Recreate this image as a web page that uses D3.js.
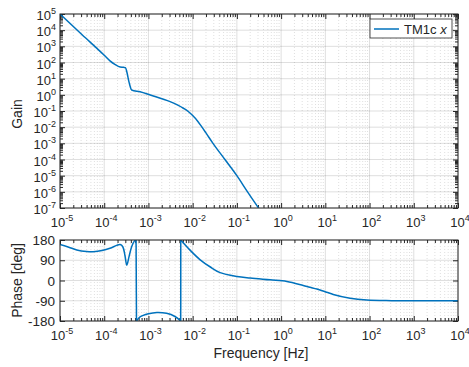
<!DOCTYPE html>
<html>
<head>
<meta charset="utf-8">
<script src="https://cdn.jsdelivr.net/npm/d3@7"></script>
<style>
  body { margin: 0; background: #fff; }
  svg { font-family: "Liberation Sans", Arial, sans-serif; }
</style>
</head>
<body>
<svg id="bode" width="469" height="367"></svg>
<script>
// gain curve
const gainFreq = [1e-5, 3.16e-5, 1e-4, 1.35e-4, 1.74e-4, 2.29e-4, 2.75e-4, 3.02e-4,
  3.24e-4, 3.63e-4, 4.17e-4, 6.46e-4, 1.1e-3, 3.09e-3, 6.17e-3, 7.94e-3, 1e-2, 1.26e-2,
  1.58e-2, 2e-2, 2.88e-2, 5.37e-2, 0.1, 0.174, 0.309, 0.55];
const gainVal = [1e5, 5.25e3, 282, 126, 76, 52, 50, 48,
  27, 6.3, 2.0, 1.55, 0.98, 0.38, 0.148, 0.093, 0.052, 0.026,
  0.0112, 4.4e-3, 1e-3, 1e-4, 1e-5, 1e-6, 1e-7, 1e-8];

// phase curve (wraps at +/-180)
const phaseFreq = [1e-5, 1.58e-5, 2.4e-5, 3.98e-5, 5.62e-5, 8.91e-5, 1.35e-4, 1.91e-4, 2.29e-4,
  2.63e-4, 2.95e-4, 3.24e-4, 3.63e-4, 4.17e-4, 4.79e-4, 5.25e-4,
  5.37e-4, 6.46e-4, 1e-3, 1.55e-3, 2.57e-3, 3.98e-3, 5.37e-3,
  5.38e-3, 8.71e-3, 1.48e-2, 2.51e-2, 4.17e-2, 0.1, 0.2, 0.562, 1.35, 3.16, 4.47, 6.46,
  10.7, 15.1, 36.3, 87.1, 316, 1000, 1e4];
const phaseDeg = [160, 148, 136, 129, 128, 133, 143, 156, 160,
  150, 110, 68, 105, 150, 175, 180,
  -180, -162, -148, -142, -146, -160, -180,
  180, 135, 92, 60, 35, 18, 11, 3, -4, -22, -30, -38,
  -52, -62, -79, -87, -89.5, -90, -90];

const freqTicks = [1e-5, 1e-4, 1e-3, 1e-2, 1e-1, 1e0, 1e1, 1e2, 1e3, 1e4];
const gainTicks = [1e5, 1e4, 1e3, 1e2, 1e1, 1e0, 1e-1, 1e-2, 1e-3, 1e-4, 1e-5, 1e-6, 1e-7];
const phaseTicks = [180, 90, 0, -90, -180];
const seriesName = 'TM1c';

const left = 60, right = 458;
const gTop = 14, gBot = 208, pTop = 240, pBot = 321;
const lineColor = '#0072bd', axisColor = '#262626';

const svg = d3.select('#bode');

const x = d3.scaleLog().domain([1e-5, 1e4]).range([left, right]);
const yGain = d3.scaleLog().domain([1e-7, 1e5]).range([gBot, gTop]);
const yPhase = d3.scaleLinear().domain([-180, 180]).range([pBot, pTop]);

// minor values 2..9 x 10^k
const minorFreq = [];
freqTicks.slice(0, -1).forEach(d => {
  for (let k = 2; k <= 9; k++) minorFreq.push(d * k);
});
const minorGain = [];
gainTicks.slice(1).forEach(d => {
  for (let k = 2; k <= 9; k++) minorGain.push(d * k);
});

function expLabel(sel, exp) {
  sel.append('tspan').text('10');
  sel.append('tspan').attr('dy', -6).attr('font-size', 9).text(exp);
}

function panel(top, bot, y, yTicks, yMinor, clipId) {
  const g = svg.append('g');

  // grid
  g.selectAll('.minorx').data(minorFreq).enter().append('line')
    .attr('x1', d => x(d)).attr('x2', d => x(d))
    .attr('y1', top).attr('y2', bot)
    .style('stroke', axisColor).style('stroke-opacity', 0.25)
    .style('stroke-dasharray', '1,2').style('stroke-width', 0.6);
  g.selectAll('.majx').data(freqTicks).enter().append('line')
    .attr('x1', d => x(d)).attr('x2', d => x(d))
    .attr('y1', top).attr('y2', bot)
    .style('stroke', axisColor).style('stroke-opacity', 0.15);
  g.selectAll('.majy').data(yTicks).enter().append('line')
    .attr('x1', left).attr('x2', right)
    .attr('y1', d => y(d)).attr('y2', d => y(d))
    .style('stroke', axisColor).style('stroke-opacity', 0.15);

  svg.append('clipPath').attr('id', clipId).append('rect')
    .attr('x', left).attr('y', top).attr('width', right - left).attr('height', bot - top);

  // ticks via d3 axes, pointing inward
  const axes = [
    [d3.axisBottom(x), `translate(0,${bot})`, freqTicks, -5],
    [d3.axisBottom(x), `translate(0,${bot})`, minorFreq, -3],
    [d3.axisTop(x), `translate(0,${top})`, freqTicks, -5],
    [d3.axisTop(x), `translate(0,${top})`, minorFreq, -3],
    [d3.axisLeft(y), `translate(${left},0)`, yTicks, -5],
    [d3.axisRight(y), `translate(${right},0)`, yTicks, -5]
  ];
  if (yMinor) {
    axes.push([d3.axisLeft(y), `translate(${left},0)`, yMinor, -3]);
    axes.push([d3.axisRight(y), `translate(${right},0)`, yMinor, -3]);
  }
  axes.forEach(([ax, tr, vals, size]) => {
    const a = g.append('g').attr('transform', tr)
      .call(ax.tickValues(vals).tickSize(size).tickFormat(''));
    a.select('.domain').remove();
    a.selectAll('line').style('stroke', axisColor);
  });

  // x tick labels
  g.selectAll('.xl').data(freqTicks).enter().append('text')
    .attr('x', d => x(d) + 2).attr('y', bot + 19)
    .attr('text-anchor', 'middle').attr('font-size', 13).style('fill', axisColor)
    .each(function(d) { expLabel(d3.select(this), String(Math.round(Math.log10(d)))); });

  return g;
}

// gain panel
const gp = panel(gTop, gBot, yGain, gainTicks, minorGain, 'clipGain');
gp.selectAll('.yl').data(gainTicks).enter().append('text')
  .attr('x', 56).attr('y', d => yGain(d) + 6)
  .attr('text-anchor', 'end').attr('font-size', 13).style('fill', axisColor)
  .each(function(d) { expLabel(d3.select(this), String(Math.round(Math.log10(d)))); });

const gainLine = d3.line()
  .x((d, i) => x(gainFreq[i]))
  .y(d => yGain(d))
  .curve(d3.curveMonotoneX);
gp.append('path')
  .datum(gainVal)
  .attr('d', gainLine)
  .attr('clip-path', 'url(#clipGain)')
  .style('fill', 'none').style('stroke', lineColor).style('stroke-width', 1.5);

gp.append('rect')
  .attr('x', left).attr('y', gTop).attr('width', right - left).attr('height', gBot - gTop)
  .style('fill', 'none').style('stroke', axisColor).style('stroke-width', 1);

// phase panel
const pp = panel(pTop, pBot, yPhase, phaseTicks, null, 'clipPhase');
pp.selectAll('.yl').data(phaseTicks).enter().append('text')
  .attr('x', 55).attr('y', d => yPhase(d) + 5)
  .attr('text-anchor', 'end').attr('font-size', 13.5).style('fill', axisColor)
  .text(d => d);

// split the phase into segments at the wraps
const pts = phaseFreq.map((f, i) => ({ f: f, p: phaseDeg[i] }));
const segments = [[pts[0]]];
for (let i = 1; i < pts.length; i++) {
  if (Math.abs(pts[i].p - pts[i - 1].p) > 180) segments.push([]);
  segments[segments.length - 1].push(pts[i]);
}
const phaseLine = d3.line()
  .x(d => x(d.f))
  .y(d => yPhase(d.p))
  .curve(d3.curveCatmullRom);
const jumpLine = d3.line().x(d => x(d.f)).y(d => yPhase(d.p));

const phaseG = pp.append('g').attr('clip-path', 'url(#clipPhase)');
segments.forEach((seg, i) => {
  phaseG.append('path').datum(seg).attr('d', phaseLine)
    .style('fill', 'none').style('stroke', lineColor).style('stroke-width', 1.5);
  if (i > 0) {
    const prev = segments[i - 1];
    phaseG.append('path').datum([prev[prev.length - 1], seg[0]]).attr('d', jumpLine)
      .style('fill', 'none').style('stroke', lineColor).style('stroke-width', 1.5);
  }
});

pp.append('rect')
  .attr('x', left).attr('y', pTop).attr('width', right - left).attr('height', pBot - pTop)
  .style('fill', 'none').style('stroke', axisColor).style('stroke-width', 1);

// axis titles
svg.append('text')
  .attr('transform', `translate(22,${(gTop + gBot) / 2 + 3}) rotate(-90)`)
  .attr('text-anchor', 'middle').attr('font-size', 14).style('fill', axisColor)
  .text('Gain');
svg.append('text')
  .attr('transform', `translate(22,${(pTop + pBot) / 2}) rotate(-90)`)
  .attr('text-anchor', 'middle').attr('font-size', 14).style('fill', axisColor)
  .text('Phase [deg]');
svg.append('text')
  .attr('x', (left + right) / 2 + 2).attr('y', 358)
  .attr('text-anchor', 'middle').attr('font-size', 14).style('fill', axisColor)
  .text('Frequency [Hz]');

// legend
const lg = svg.append('g').attr('transform', 'translate(370,19)');
lg.append('rect').attr('width', 82).attr('height', 19)
  .style('fill', '#fff').style('stroke', axisColor).style('stroke-width', 0.8);
lg.append('line').attr('x1', 4).attr('x2', 29).attr('y1', 10).attr('y2', 10)
  .style('stroke', lineColor).style('stroke-width', 1.5);
const lt = lg.append('text').attr('x', 34).attr('y', 14.5)
  .attr('font-size', 13).style('fill', axisColor);
lt.append('tspan').text(seriesName + ' ');
lt.append('tspan').style('font-style', 'italic').text('x');
</script>
</body>
</html>
